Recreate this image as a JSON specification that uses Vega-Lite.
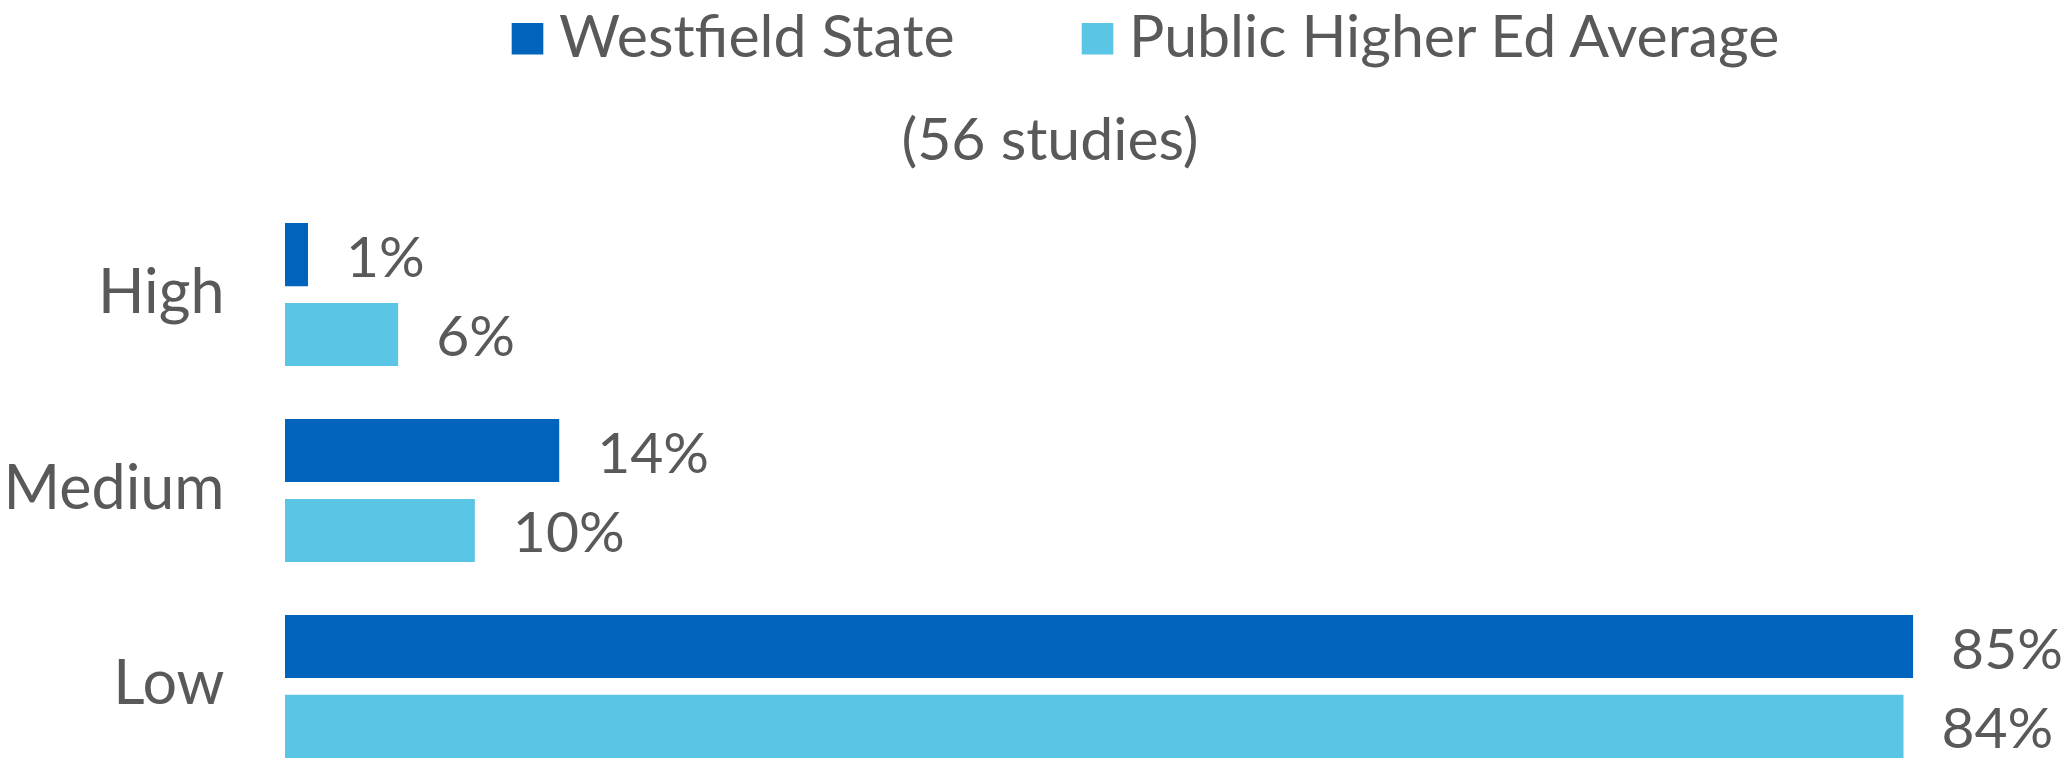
{
  "$schema": "https://vega.github.io/schema/vega-lite/v6.json",
  "width": 1630,
  "height": 535,
  "autosize": {"type": "none"},
  "padding": {"left": 285, "top": 223, "right": 152, "bottom": 6},
  "background": "white",
  "config": {"view": {"stroke": null}, "font": "Lato"},
  "title": {"text": "(56 studies)", "fontSize": 59, "font": "Lato", "fontWeight": "normal", "color": "#595959", "anchor": "middle", "dx": -50, "offset": -210, "baseline": "alphabetic"},
  "data": {"values": [
    {"level": "High", "group": "Westfield State", "value": 0.012},
    {"level": "High", "group": "Public Higher Ed Average", "value": 0.059},
    {"level": "Medium", "group": "Westfield State", "value": 0.143},
    {"level": "Medium", "group": "Public Higher Ed Average", "value": 0.099},
    {"level": "Low", "group": "Westfield State", "value": 0.849},
    {"level": "Low", "group": "Public Higher Ed Average", "value": 0.844}
  ]},
  "encoding": {
    "y": {"field": "level", "type": "nominal", "sort": ["High", "Medium", "Low"],
      "scale": {"paddingInner": 0.27, "paddingOuter": 0},
      "axis": {"title": null, "ticks": false, "domain": false, "labelFontSize": 61, "labelColor": "#595959", "labelPadding": 61, "labelFont": "Lato", "labelLimit": 400}},
    "yOffset": {"field": "group", "type": "nominal", "sort": ["Westfield State", "Public Higher Ed Average"],
      "scale": {"paddingInner": 0.21, "paddingOuter": 0}},
    "x": {"field": "value", "type": "quantitative", "scale": {"domain": [0, 0.85], "nice": false, "zero": true}, "axis": null}
  },
  "layer": [
    {
      "mark": {"type": "bar"},
      "encoding": {
        "color": {"field": "group", "type": "nominal", "sort": ["Westfield State", "Public Higher Ed Average"],
          "scale": {"domain": ["Westfield State", "Public Higher Ed Average"], "range": ["#0064BD", "#5BC5E6"]},
          "legend": {"orient": "none", "legendX": 213, "legendY": -214, "direction": "horizontal", "title": null,
            "symbolType": "square", "symbolSize": 1000, "symbolStrokeWidth": 0, "labelFontSize": 59, "labelColor": "#595959",
            "labelFont": "Lato", "columnPadding": 113, "labelOffset": 2, "labelLimit": 800}}
      }
    },
    {
      "mark": {"type": "text", "align": "left", "baseline": "middle", "dx": 38, "dy": 5, "fontSize": 57, "color": "#595959", "font": "Lato"},
      "encoding": {"text": {"field": "value", "type": "quantitative", "format": ".0%"}}
    }
  ]
}
